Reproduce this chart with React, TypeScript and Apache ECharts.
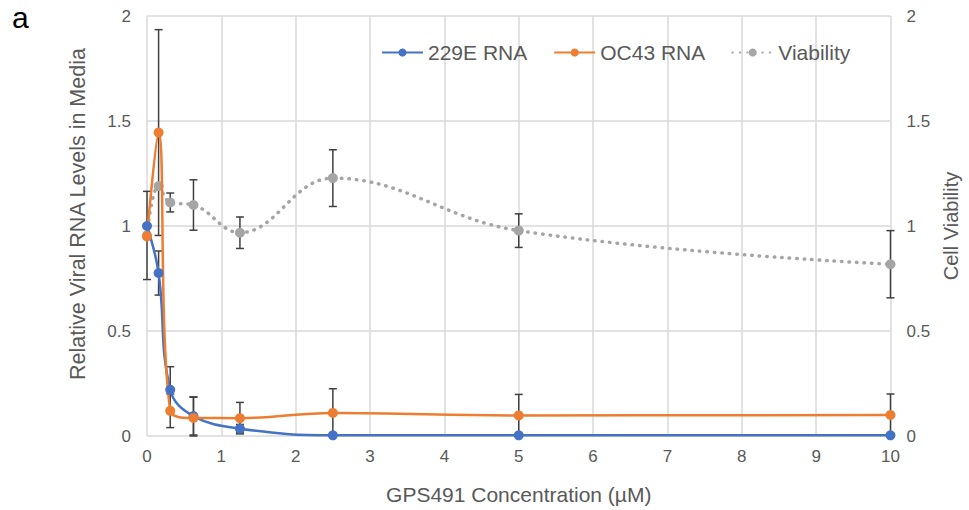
import React, { useEffect, useRef } from "react";
import * as echarts from "echarts";

const concentrations = [0, 0.156, 0.3125, 0.625, 1.25, 2.5, 5, 10];
const rna229E = [1.0, 0.776, 0.22, 0.095, 0.035, 0.003, 0.003, 0.003];
const rna229EErr = [0.0, 0.105, 0.11, 0.09, 0.02, 0.0, 0.0, 0.0];
const rnaOC43 = [0.95, 1.445, 0.12, 0.086, 0.085, 0.11, 0.098, 0.1];
const rnaOC43Err = [0.0, 0.49, 0.08, 0.1, 0.075, 0.115, 0.1, 0.1];
const viability = [0.955, 1.19, 1.112, 1.1, 0.968, 1.228, 0.978, 0.818];
const viabilityErr = [0.21, 0.0, 0.045, 0.12, 0.075, 0.135, 0.08, 0.16];

const BLUE = "#4472C4";
const ORANGE = "#ED7D31";
const GRAY = "#A5A5A5";
const TEXT = "#595959";
const FONT = "Liberation Sans, Arial, sans-serif";

function errData(vals: number[], errs: number[]) {
  return concentrations
    .map((x, i) => [x, vals[i] - errs[i], vals[i] + errs[i]])
    .filter((_, i) => errs[i] > 0);
}

function errSeries(name: string, vals: number[], errs: number[], yAxisIndex: number) {
  return {
    type: "custom",
    name: name + " err",
    yAxisIndex,
    z: 1,
    silent: true,
    data: errData(vals, errs),
    renderItem: (_params: any, api: any) => {
      const x = api.value(0);
      const lo = api.coord([x, Math.max(0, api.value(1))]);
      const hi = api.coord([x, api.value(2)]);
      const w = 4;
      const style = { stroke: "#404040", lineWidth: 1.5 };
      return {
        type: "group",
        children: [
          { type: "line", shape: { x1: lo[0], y1: lo[1], x2: hi[0], y2: hi[1] }, style },
          { type: "line", shape: { x1: hi[0] - w, y1: hi[1], x2: hi[0] + w, y2: hi[1] }, style },
          { type: "line", shape: { x1: lo[0] - w, y1: lo[1], x2: lo[0] + w, y2: lo[1] }, style },
        ],
      };
    },
  };
}

export default function App() {
  const ref = useRef<HTMLDivElement>(null);
  useEffect(() => {
    if (!ref.current) return;
    const chart = echarts.init(ref.current, undefined, { renderer: "svg" });
    const yAxisBase = {
      type: "value",
      min: 0,
      max: 2,
      interval: 0.5,
      axisLine: { show: false },
      axisTick: { show: false },
      axisLabel: { color: TEXT, fontSize: 17, margin: 16, fontFamily: FONT, formatter: (v: number) => String(v) },
      nameLocation: "middle",
    };
    chart.setOption({
      animation: false,
      textStyle: { fontFamily: FONT },
      graphic: [
        {
          type: "text",
          left: 12,
          top: 2,
          style: { text: "a", fontSize: 30, fill: "#000", fontFamily: FONT },
        },
      ],
      legend: {
        top: 37,
        left: 376,
        itemGap: 26,
        itemWidth: 41,
        itemHeight: 10,
        textStyle: { color: TEXT, fontSize: 21, fontFamily: FONT },
        data: ["229E RNA", "OC43 RNA", "Viability"],
      },
      grid: { left: 147, right: 74, top: 16, bottom: 74, containLabel: false },
      xAxis: {
        type: "value",
        min: 0,
        max: 10,
        interval: 1,
        name: "GPS491 Concentration (µM)",
        nameLocation: "middle",
        nameGap: 48,
        nameTextStyle: { color: TEXT, fontSize: 21, fontFamily: FONT },
        axisLine: { show: false },
        axisTick: { show: false },
        axisLabel: { color: TEXT, fontSize: 17, margin: 12, fontFamily: FONT },
        splitLine: { show: true, lineStyle: { color: "#D9D9D9", width: 1.5 } },
      },
      yAxis: [
        {
          ...yAxisBase,
          position: "left",
          name: "Relative Viral RNA Levels in Media",
          nameGap: 58,
          nameTextStyle: { color: TEXT, fontSize: 21.5, fontFamily: FONT, padding: [0, 0, 0, 24] },
          splitLine: { show: true, lineStyle: { color: "#D9D9D9", width: 1.5 } },
        },
        {
          ...yAxisBase,
          position: "right",
          name: "Cell Viability",
          nameGap: 50,
          nameTextStyle: { color: TEXT, fontSize: 20, fontFamily: FONT },
          splitLine: { show: false },
        },
      ],
      series: [
        errSeries("229E RNA", rna229E, rna229EErr, 0),
        errSeries("OC43 RNA", rnaOC43, rnaOC43Err, 0),
        errSeries("Viability", viability, viabilityErr, 1),
        {
          name: "229E RNA",
          type: "line",
          yAxisIndex: 0,
          z: 3,
          smooth: 0.4,
          data: concentrations.map((x, i) => [x, rna229E[i]]),
          symbol: "circle",
          symbolSize: 10,
          lineStyle: { color: BLUE, width: 2.5 },
          itemStyle: { color: BLUE },
        },
        {
          name: "OC43 RNA",
          type: "line",
          yAxisIndex: 0,
          z: 3,
          smooth: 0.4,
          data: concentrations.map((x, i) => [x, rnaOC43[i]]),
          symbol: "circle",
          symbolSize: 10,
          lineStyle: { color: ORANGE, width: 2.5 },
          itemStyle: { color: ORANGE },
        },
        {
          name: "Viability",
          type: "line",
          yAxisIndex: 1,
          z: 2,
          smooth: 0.4,
          data: concentrations.map((x, i) => [x, viability[i]]),
          symbol: "circle",
          symbolSize: 10,
          lineStyle: { color: GRAY, width: 3.5, type: [0.5, 7], cap: "round" },
          itemStyle: { color: GRAY },
        },
      ],
    });
    return () => chart.dispose();
  }, []);
  return <div ref={ref} style={{ width: 969, height: 510, position: "absolute", left: 0, top: 0 }} />;
}
